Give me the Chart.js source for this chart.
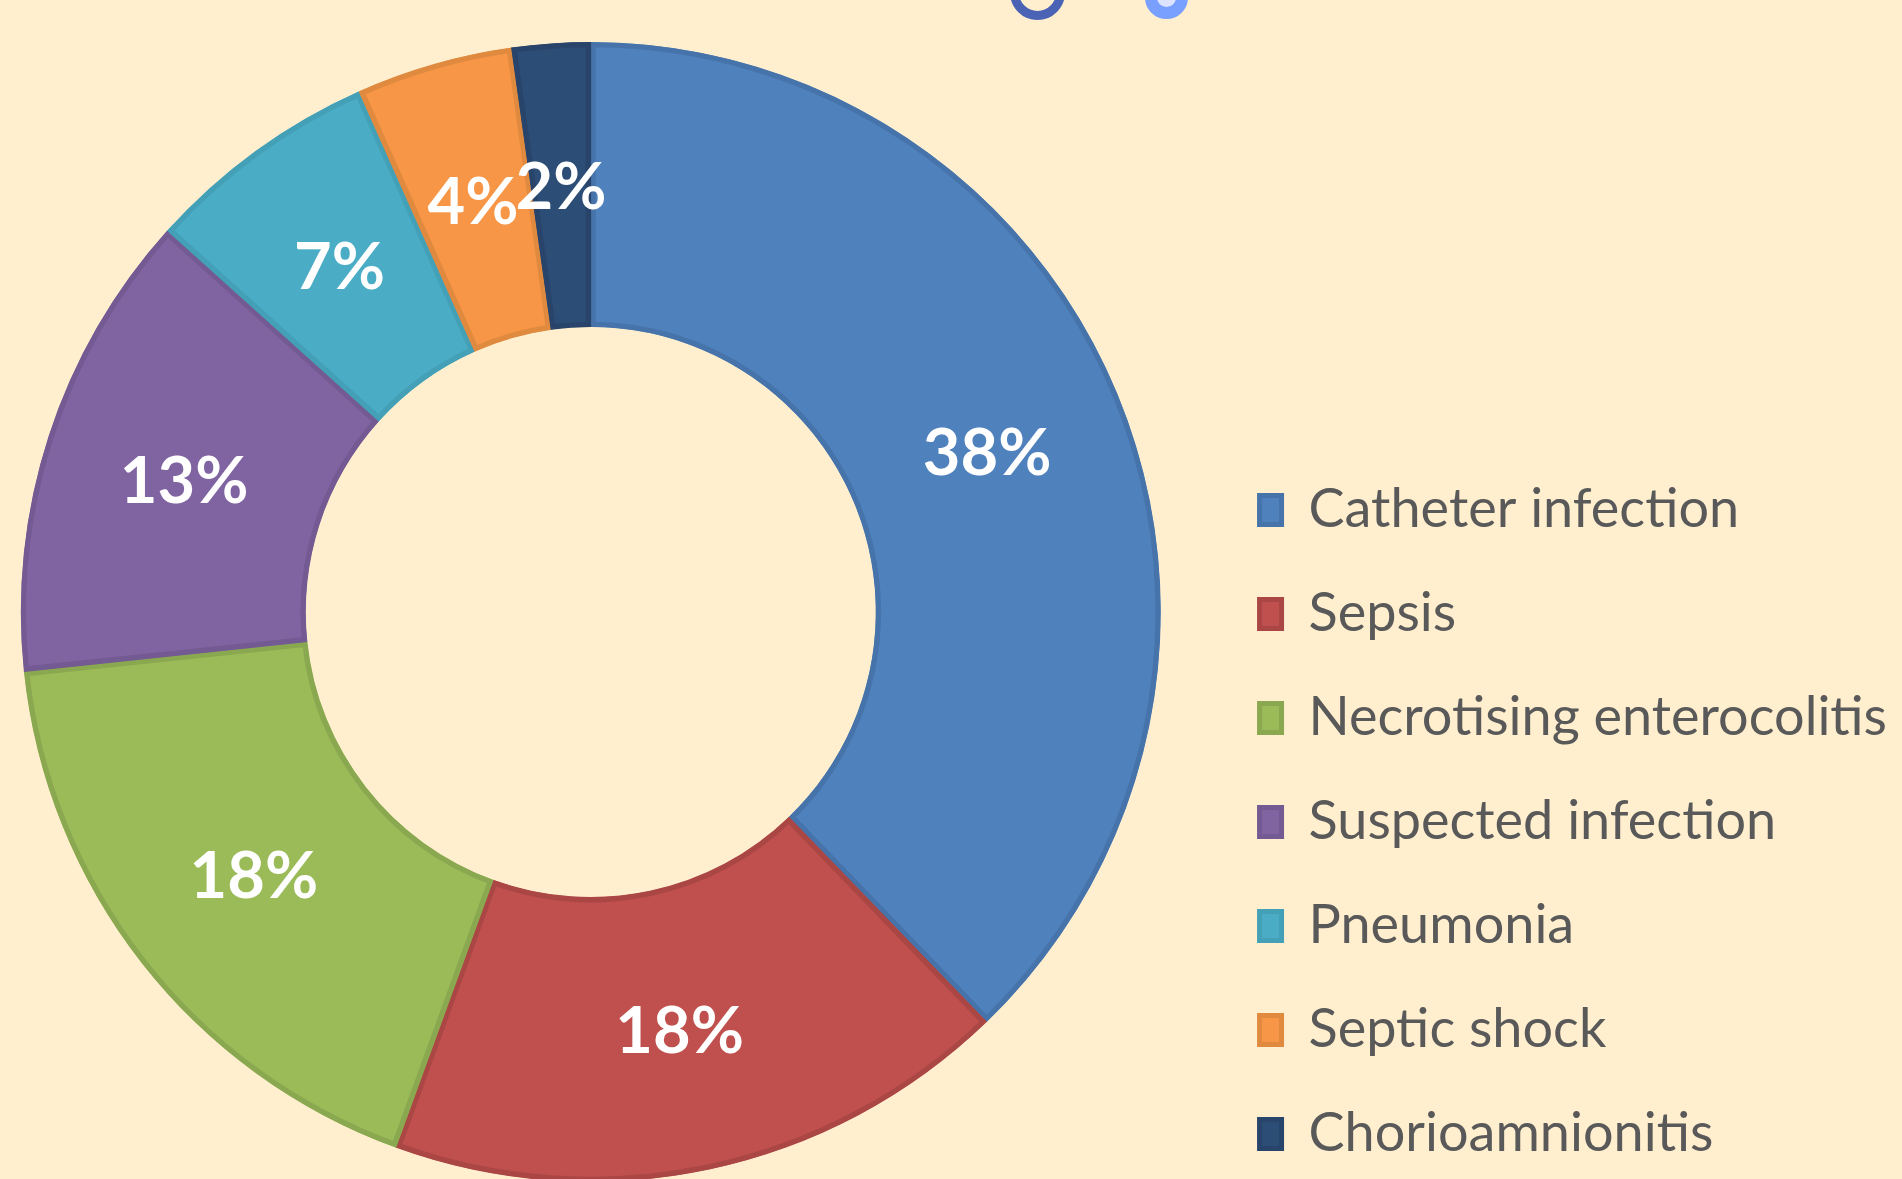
<!DOCTYPE html>
<html>
<head>
<meta charset="utf-8">
<script src="https://cdn.jsdelivr.net/npm/chart.js@4.4.1/dist/chart.umd.min.js"></script>
<style>
  html, body { margin: 0; padding: 0; background: #FFEFCF; overflow: hidden; width: 1902px; height: 1179px; }
  #wrap { position: relative; width: 1902px; height: 1179px; overflow: hidden; }
  #chartCanvas { position: absolute; left: -28px; top: 0; }
  .dot { position: absolute; border-radius: 50%; box-sizing: border-box; }
</style>
</head>
<body>
<div id="wrap">
  <canvas id="chartCanvas"></canvas>
  <div class="dot" style="left:1010px; top:-35px; width:55px; height:55px; border:9px solid #4A63B5;"></div>
  <div class="dot" style="left:1145px; top:-24px; width:43px; height:43px; border:12px solid #7AA0FF; background:#DDE4FF;"></div>
</div>
<script>
const categories = [
  "Catheter infection",
  "Sepsis",
  "Necrotising enterocolitis",
  "Suspected infection",
  "Pneumonia",
  "Septic shock",
  "Chorioamnionitis",
];
const cases = [17, 8, 8, 6, 3, 2, 1];
const fillColors = ["#4F81BD", "#C0504D", "#9BBB59", "#8064A2", "#4BACC6", "#F79646", "#2C4D75"];
const edgeColors = ["#4673AA", "#AA4744", "#8AA84F", "#735A92", "#43A0B6", "#E08A40", "#28446A"];

const legendFont = { family: "Lato", size: 54 };
const legendPad = 50;
const legendLeft = 1237; // where the legend box starts inside the canvas

// work out the canvas width so the legend lands where it should
const measure = document.createElement("canvas").getContext("2d");
measure.font = "normal " + legendFont.size + "px " + legendFont.family;
const widest = Math.max(...categories.map((c) => measure.measureText(c).width));
const canvas = document.getElementById("chartCanvas");
canvas.width = Math.ceil(legendLeft + legendPad + 10 + 22 + legendFont.size / 2 + widest);
canvas.height = 1211;

const total = cases.reduce((s, v) => s + v, 0);

// percentage text in the middle of each ring slice
const sliceLabels = {
  id: "sliceLabels",
  afterDatasetsDraw(chart) {
    const ctx = chart.ctx;
    const meta = chart.getDatasetMeta(0);
    ctx.save();
    ctx.fillStyle = "#FFFFFF";
    ctx.font = "bold 65px Lato";
    ctx.textAlign = "center";
    ctx.textBaseline = "middle";
    meta.data.forEach((arc, i) => {
      const pos = arc.tooltipPosition();
      ctx.fillText(Math.round((cases[i] / total) * 100) + "%", pos.x, pos.y + 2);
    });
    ctx.restore();
  },
};

new Chart(canvas.getContext("2d"), {
  type: "doughnut",
  data: {
    labels: categories,
    datasets: [
      {
        data: cases,
        backgroundColor: fillColors,
        borderColor: edgeColors,
        borderWidth: 5,
        borderAlign: "inner",
        radius: 570,
      },
    ],
  },
  options: {
    responsive: false,
    animation: false,
    cutout: "50%",
    layout: { padding: { top: 13, bottom: 0, left: 0, right: 0 } },
    plugins: {
      tooltip: { enabled: false },
      legend: {
        position: "right",
        align: "end",
        labels: {
          font: legendFont,
          color: "#595959",
          boxWidth: 22,
          boxHeight: 29,
          padding: legendPad,
          generateLabels(chart) {
            const items = Chart.overrides.doughnut.plugins.legend.labels.generateLabels(chart);
            return items.map((it) => ({ ...it, lineWidth: 5 }));
          },
        },
      },
    },
  },
  plugins: [sliceLabels],
});
</script>
</body>
</html>
